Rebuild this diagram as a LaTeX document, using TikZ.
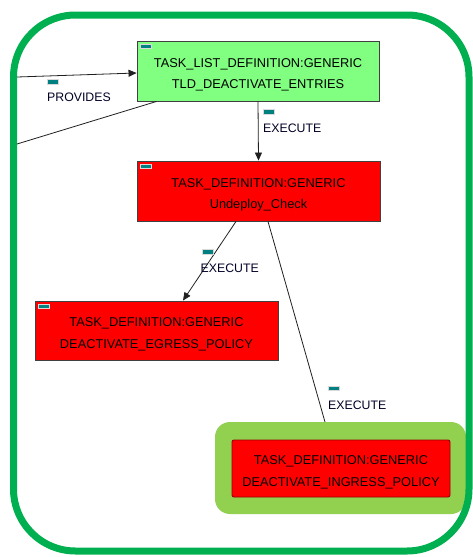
\documentclass[tikz,border=0pt]{standalone}
\usepackage{fontspec}
\setmainfont{Liberation Sans}
\usetikzlibrary{arrows.meta,calc}
\definecolor{framegreen}{HTML}{00B050}
\definecolor{tldgreen}{HTML}{80FF80}
\definecolor{hilite}{HTML}{92D050}
\definecolor{taskred}{HTML}{FF0000}
\definecolor{flag}{HTML}{008080}
\definecolor{edgeline}{HTML}{202020}
\newcommand{\firststrut}{\rule{0pt}{17pt}}
\begin{document}
\begin{tikzpicture}[x=1pt,y=-1pt,
  boxtext/.style={font=\fontsize{12.8}{21.5}\selectfont, align=center, text=black, inner sep=0pt},
  tldbox/.style={boxtext, draw=black!75, line width=0.9pt, fill=tldgreen},
  taskbox/.style={boxtext, draw=black!75, line width=0.9pt, fill=taskred},
  flagmark/.style={draw=white!85!black, line width=0.4pt, fill=flag, minimum width=11pt, minimum height=4.5pt, inner sep=0pt, anchor=north west},
  edgelabel/.style={font=\fontsize{12.3}{14}\selectfont, text=black!85!blue, inner sep=0pt, anchor=base west},
  link/.style={draw=edgeline, line width=0.8pt},
  arrowlink/.style={link, -{Triangle[length=8pt,width=7pt]}}]
\useasboundingbox (0,0) rectangle (473,557);
\fill[white] (0,0) rectangle (473,557);

% highlight behind the ingress task
\fill[hilite, rounded corners=15pt] (215,422) rectangle (466,514);
\coordinate (hl) at (340.5,422);

% outer frame
\draw[framegreen, line width=7pt, rounded corners=62pt] (13.5,15) rectangle (469,551);

% task nodes
\node[tldbox, minimum width=242pt, minimum height=60pt] (tld) at (258,71)
  {\firststrut TASK\_LIST\_DEFINITION:GENERIC\\TLD\_DEACTIVATE\_ENTRIES};
\node[taskbox, minimum width=243pt, minimum height=60pt] (und) at (258.5,191)
  {\firststrut TASK\_DEFINITION:GENERIC\\Undeploy\_Check};
\node[taskbox, minimum width=243pt, minimum height=59pt] (egr) at (156.5,330.5)
  {\firststrut TASK\_DEFINITION:GENERIC\\DEACTIVATE\_EGRESS\_POLICY};
\node[taskbox, draw=red!60!black, rounded corners=2pt, minimum width=218pt, minimum height=57pt] (ing) at (341,468.5)
  {\firststrut TASK\_DEFINITION:GENERIC\\DEACTIVATE\_INGRESS\_POLICY};

% flags on the task boxes
\node[flagmark] (tldflag) at ($(tld.north west)+(3.5,3)$) {};
\node[flagmark] (undflag) at ($(und.north west)+(3.5,3)$) {};
\node[flagmark] (egrflag) at ($(egr.north west)+(3.5,3)$) {};

% connectors
\coordinate (provsrc) at (17,77);
\coordinate (lowsrc) at (17,144);
\draw[arrowlink] (provsrc) -- ($(tld.west)+(0,2)$);
\draw[link] (lowsrc) -- ($(tld.south west)+(20,0)$);
\draw[arrowlink] (tld.south) -- (und.north);
\draw[arrowlink] ($(und.south)+(-22.5,0)$) -- ($(egr.north)+(26.5,0)$);
\draw[link] ($(und.south)+(9.5,0)$) -- ($(hl)+(-15.5,0)$);

% connector labels
\node[flagmark] (provflag) at (47,79) {};
\node[edgelabel] (provlbl) at (47,101) {PROVIDES};
\node[flagmark] (ex1flag) at (263,109) {};
\node[edgelabel] (ex1lbl) at (263,132) {EXECUTE};
\node[flagmark] (ex2flag) at (202,249) {};
\node[edgelabel] (ex2lbl) at (200.5,272) {EXECUTE};
\node[flagmark] (ex3flag) at (328,385.5) {};
\node[edgelabel] (ex3lbl) at (328,409) {EXECUTE};
\end{tikzpicture}
\end{document}
